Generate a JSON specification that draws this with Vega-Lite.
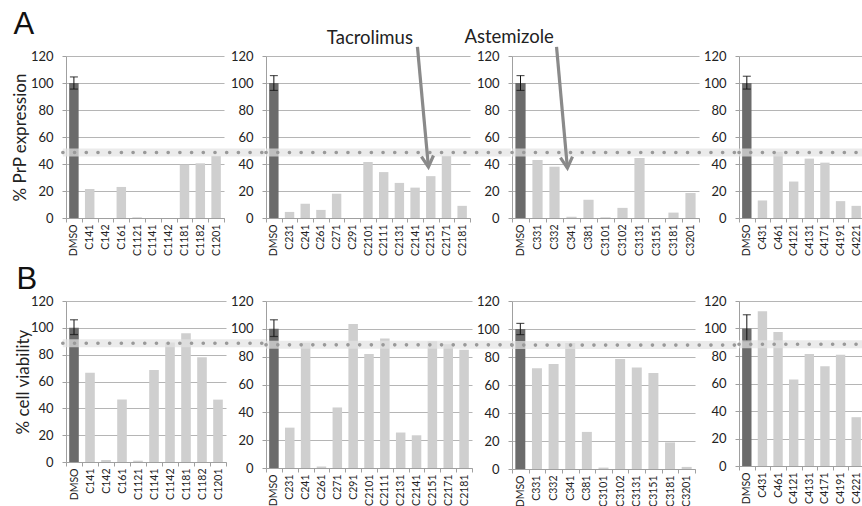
{
"$schema": "https://vega.github.io/schema/vega-lite/v6.json",
"autosize": {"type": "none"},
"padding": {"left": 66, "top": 56, "right": 796, "bottom": 450},
"background": "white",
"config": {
  "view": {"stroke": null},
  "font": "Lato",
  "axis": {"domainColor": "#a0a0a0", "tickColor": "#a0a0a0", "gridColor": "#b5b5b5", "labelColor": "#222", "labelFont": "Lato", "titleFont": "Lato", "titleFontWeight": "normal", "titleColor": "#222", "titleFontSize": 17},
  "axisY": {"grid": true, "tickCount": 6, "tickSize": 4, "labelPadding": 9, "labelFontSize": 13, "titlePadding": 6},
  "axisX": {"grid": false, "labelAngle": -90, "labelFontSize": 10.5, "tickSize": 4, "labelPadding": 2, "tickBand": "extent"}
},
"datasets": {
  "bars": [
    {"row": "A", "panel": 1, "compound": "DMSO", "value": 100, "kind": "control", "lo": 95.5, "hi": 104.5},
    {"row": "A", "panel": 1, "compound": "C141", "value": 21.5, "kind": "test"},
    {"row": "A", "panel": 1, "compound": "C142", "value": 0, "kind": "test"},
    {"row": "A", "panel": 1, "compound": "C161", "value": 23, "kind": "test"},
    {"row": "A", "panel": 1, "compound": "C1121", "value": 0.5, "kind": "test"},
    {"row": "A", "panel": 1, "compound": "C1141", "value": 0, "kind": "test"},
    {"row": "A", "panel": 1, "compound": "C1142", "value": 0, "kind": "test"},
    {"row": "A", "panel": 1, "compound": "C1181", "value": 39.5, "kind": "test"},
    {"row": "A", "panel": 1, "compound": "C1182", "value": 40.5, "kind": "test"},
    {"row": "A", "panel": 1, "compound": "C1201", "value": 46, "kind": "test"},
    {"row": "A", "panel": 2, "compound": "DMSO", "value": 100, "kind": "control", "lo": 94.5, "hi": 105.5},
    {"row": "A", "panel": 2, "compound": "C231", "value": 4.5, "kind": "test"},
    {"row": "A", "panel": 2, "compound": "C241", "value": 10.5, "kind": "test"},
    {"row": "A", "panel": 2, "compound": "C261", "value": 6, "kind": "test"},
    {"row": "A", "panel": 2, "compound": "C271", "value": 18, "kind": "test"},
    {"row": "A", "panel": 2, "compound": "C291", "value": 0, "kind": "test"},
    {"row": "A", "panel": 2, "compound": "C2101", "value": 41.5, "kind": "test"},
    {"row": "A", "panel": 2, "compound": "C2111", "value": 34, "kind": "test"},
    {"row": "A", "panel": 2, "compound": "C2131", "value": 26, "kind": "test"},
    {"row": "A", "panel": 2, "compound": "C2141", "value": 22.5, "kind": "test"},
    {"row": "A", "panel": 2, "compound": "C2151", "value": 31, "kind": "test"},
    {"row": "A", "panel": 2, "compound": "C2171", "value": 46, "kind": "test"},
    {"row": "A", "panel": 2, "compound": "C2181", "value": 9, "kind": "test"},
    {"row": "A", "panel": 3, "compound": "DMSO", "value": 100, "kind": "control", "lo": 94.5, "hi": 105.5},
    {"row": "A", "panel": 3, "compound": "C331", "value": 43, "kind": "test"},
    {"row": "A", "panel": 3, "compound": "C332", "value": 38, "kind": "test"},
    {"row": "A", "panel": 3, "compound": "C341", "value": 1, "kind": "test"},
    {"row": "A", "panel": 3, "compound": "C381", "value": 13.5, "kind": "test"},
    {"row": "A", "panel": 3, "compound": "C3101", "value": 0.5, "kind": "test"},
    {"row": "A", "panel": 3, "compound": "C3102", "value": 7.5, "kind": "test"},
    {"row": "A", "panel": 3, "compound": "C3131", "value": 44.5, "kind": "test"},
    {"row": "A", "panel": 3, "compound": "C3151", "value": 0, "kind": "test"},
    {"row": "A", "panel": 3, "compound": "C3181", "value": 4, "kind": "test"},
    {"row": "A", "panel": 3, "compound": "C3201", "value": 18.5, "kind": "test"},
    {"row": "A", "panel": 4, "compound": "DMSO", "value": 100, "kind": "control", "lo": 95.5, "hi": 105},
    {"row": "A", "panel": 4, "compound": "C431", "value": 13, "kind": "test"},
    {"row": "A", "panel": 4, "compound": "C461", "value": 49, "kind": "test"},
    {"row": "A", "panel": 4, "compound": "C4121", "value": 27, "kind": "test"},
    {"row": "A", "panel": 4, "compound": "C4131", "value": 44, "kind": "test"},
    {"row": "A", "panel": 4, "compound": "C4171", "value": 41, "kind": "test"},
    {"row": "A", "panel": 4, "compound": "C4191", "value": 12.5, "kind": "test"},
    {"row": "A", "panel": 4, "compound": "C4221", "value": 9, "kind": "test"},
    {"row": "B", "panel": 1, "compound": "DMSO", "value": 100, "kind": "control", "lo": 95, "hi": 106},
    {"row": "B", "panel": 1, "compound": "C141", "value": 66.5, "kind": "test"},
    {"row": "B", "panel": 1, "compound": "C142", "value": 1.5, "kind": "test"},
    {"row": "B", "panel": 1, "compound": "C161", "value": 46.5, "kind": "test"},
    {"row": "B", "panel": 1, "compound": "C1121", "value": 1, "kind": "test"},
    {"row": "B", "panel": 1, "compound": "C1141", "value": 68.5, "kind": "test"},
    {"row": "B", "panel": 1, "compound": "C1142", "value": 89, "kind": "test"},
    {"row": "B", "panel": 1, "compound": "C1181", "value": 96, "kind": "test"},
    {"row": "B", "panel": 1, "compound": "C1182", "value": 78, "kind": "test"},
    {"row": "B", "panel": 1, "compound": "C1201", "value": 46.5, "kind": "test"},
    {"row": "B", "panel": 2, "compound": "DMSO", "value": 100, "kind": "control", "lo": 94.5, "hi": 106.5},
    {"row": "B", "panel": 2, "compound": "C231", "value": 29, "kind": "test"},
    {"row": "B", "panel": 2, "compound": "C241", "value": 90, "kind": "test"},
    {"row": "B", "panel": 2, "compound": "C261", "value": 1, "kind": "test"},
    {"row": "B", "panel": 2, "compound": "C271", "value": 43.5, "kind": "test"},
    {"row": "B", "panel": 2, "compound": "C291", "value": 103.5, "kind": "test"},
    {"row": "B", "panel": 2, "compound": "C2101", "value": 82, "kind": "test"},
    {"row": "B", "panel": 2, "compound": "C2111", "value": 93, "kind": "test"},
    {"row": "B", "panel": 2, "compound": "C2131", "value": 25.5, "kind": "test"},
    {"row": "B", "panel": 2, "compound": "C2141", "value": 23.5, "kind": "test"},
    {"row": "B", "panel": 2, "compound": "C2151", "value": 91, "kind": "test"},
    {"row": "B", "panel": 2, "compound": "C2171", "value": 89, "kind": "test"},
    {"row": "B", "panel": 2, "compound": "C2181", "value": 85, "kind": "test"},
    {"row": "B", "panel": 3, "compound": "DMSO", "value": 100, "kind": "control", "lo": 96, "hi": 104},
    {"row": "B", "panel": 3, "compound": "C331", "value": 72, "kind": "test"},
    {"row": "B", "panel": 3, "compound": "C332", "value": 75, "kind": "test"},
    {"row": "B", "panel": 3, "compound": "C341", "value": 90, "kind": "test"},
    {"row": "B", "panel": 3, "compound": "C381", "value": 26.5, "kind": "test"},
    {"row": "B", "panel": 3, "compound": "C3101", "value": 1, "kind": "test"},
    {"row": "B", "panel": 3, "compound": "C3102", "value": 78.5, "kind": "test"},
    {"row": "B", "panel": 3, "compound": "C3131", "value": 72.5, "kind": "test"},
    {"row": "B", "panel": 3, "compound": "C3151", "value": 68.5, "kind": "test"},
    {"row": "B", "panel": 3, "compound": "C3181", "value": 19, "kind": "test"},
    {"row": "B", "panel": 3, "compound": "C3201", "value": 1.5, "kind": "test"},
    {"row": "B", "panel": 4, "compound": "DMSO", "value": 100, "kind": "control", "lo": 91, "hi": 110},
    {"row": "B", "panel": 4, "compound": "C431", "value": 112.5, "kind": "test"},
    {"row": "B", "panel": 4, "compound": "C461", "value": 97.5, "kind": "test"},
    {"row": "B", "panel": 4, "compound": "C4121", "value": 63, "kind": "test"},
    {"row": "B", "panel": 4, "compound": "C4131", "value": 81.5, "kind": "test"},
    {"row": "B", "panel": 4, "compound": "C4171", "value": 72.5, "kind": "test"},
    {"row": "B", "panel": 4, "compound": "C4191", "value": 81, "kind": "test"},
    {"row": "B", "panel": 4, "compound": "C4221", "value": 35.5, "kind": "test"}
  ],
  "thresholds": [
    {"row": "A", "panel": 1, "value": 48.5, "x": -0.2, "x2": 12.6},
    {"row": "A", "panel": 2, "value": 48.5, "x": 0, "x2": 15.6},
    {"row": "A", "panel": 3, "value": 48.5, "x": 0, "x2": 13.4},
    {"row": "A", "panel": 4, "value": 48.5, "x": 0, "x2": 8.2},
    {"row": "B", "panel": 1, "value": 88.5, "x": -0.2, "x2": 12.6},
    {"row": "B", "panel": 2, "value": 88.5, "x": 0, "x2": 15.6},
    {"row": "B", "panel": 3, "value": 88.5, "x": 0, "x2": 13.5},
    {"row": "B", "panel": 4, "value": 88.5, "x": 0, "x2": 8.2}
  ],
  "notes": [
    {"panel": 2, "label": "Tacrolimus", "x": 6.62, "value": 133},
    {"panel": 3, "label": "Astemizole", "x": -0.17, "value": 134}
  ],
  "arrows": [
    {"panel": 2, "x": 9.65, "value": 126.7, "x2": 10.35, "value2": 37.8},
    {"panel": 3, "x": 2.62, "value": 126.7, "x2": 3.26, "value2": 37}
  ]
},
"columns": 4,
"align": "none",
"bounds": "flush",
"spacing": {"row": 83, "column": 40},
"concat": [
  {"width": 158, "height": 162,
   "title": {"text": "A", "anchor": "start", "frame": "bounds", "offset": 9, "dx": 2, "fontSize": 31, "font": "Liberation Sans", "fontWeight": "normal", "color": "#111"},
   "layer": [
    {"data": {"name": "bars"}, "transform": [{"filter": "datum.row == 'A' && datum.panel == 1"}],
     "layer": [
      {"mark": {"type": "bar", "width": {"band": 0.6}},
       "encoding": {
        "x": {"field": "compound", "type": "nominal", "sort": null, "scale": {"paddingInner": 0, "paddingOuter": 0}, "axis": {"title": null}},
        "y": {"field": "value", "type": "quantitative", "scale": {"domain": [0, 120], "nice": false}, "axis": {"title": "% PrP expression", "titlePadding": 1}},
        "color": {"field": "kind", "type": "nominal", "scale": {"domain": ["control", "test"], "range": ["#6b6b6b", "#cfcfcf"]}, "legend": null}}},
      {"mark": {"type": "rule", "color": "#111"},
       "encoding": {"x": {"field": "compound", "type": "nominal", "sort": null}, "y": {"field": "lo", "type": "quantitative"}, "y2": {"field": "hi"}}},
      {"mark": {"type": "tick", "color": "#111", "size": 8, "thickness": 1.2},
       "encoding": {"x": {"field": "compound", "type": "nominal", "sort": null}, "y": {"field": "hi", "type": "quantitative"}}},
      {"mark": {"type": "tick", "color": "#111", "size": 8, "thickness": 1.2},
       "encoding": {"x": {"field": "compound", "type": "nominal", "sort": null}, "y": {"field": "lo", "type": "quantitative"}}}
     ]},
    {"data": {"name": "thresholds"}, "transform": [{"filter": "datum.row == 'A' && datum.panel == 1"}],
     "encoding": {"x": {"field": "x", "type": "quantitative", "scale": {"domain": [0, 10], "nice": false, "zero": false}, "axis": null}, "x2": {"field": "x2"}, "y": {"field": "value", "type": "quantitative"}},
     "layer": [
      {"mark": {"type": "rule", "color": "#e3e3e3", "strokeWidth": 8, "opacity": 0.7}},
      {"mark": {"type": "rule", "color": "#999999", "strokeWidth": 3.6, "strokeDash": [0.1, 11.6], "strokeCap": "round"}}
     ]}
   ],
   "resolve": {"scale": {"x": "independent"}}},
  {"width": 204, "height": 162,
   "layer": [
    {"data": {"name": "bars"}, "transform": [{"filter": "datum.row == 'A' && datum.panel == 2"}],
     "layer": [
      {"mark": {"type": "bar", "width": {"band": 0.6}},
       "encoding": {
        "x": {"field": "compound", "type": "nominal", "sort": null, "scale": {"paddingInner": 0, "paddingOuter": 0}, "axis": {"title": null}},
        "y": {"field": "value", "type": "quantitative", "scale": {"domain": [0, 120], "nice": false}, "axis": {"title": null}},
        "color": {"field": "kind", "type": "nominal", "scale": {"domain": ["control", "test"], "range": ["#6b6b6b", "#cfcfcf"]}, "legend": null}}},
      {"mark": {"type": "rule", "color": "#111"},
       "encoding": {"x": {"field": "compound", "type": "nominal", "sort": null}, "y": {"field": "lo", "type": "quantitative"}, "y2": {"field": "hi"}}},
      {"mark": {"type": "tick", "color": "#111", "size": 8, "thickness": 1.2},
       "encoding": {"x": {"field": "compound", "type": "nominal", "sort": null}, "y": {"field": "hi", "type": "quantitative"}}},
      {"mark": {"type": "tick", "color": "#111", "size": 8, "thickness": 1.2},
       "encoding": {"x": {"field": "compound", "type": "nominal", "sort": null}, "y": {"field": "lo", "type": "quantitative"}}}
     ]},
    {"data": {"name": "thresholds"}, "transform": [{"filter": "datum.row == 'A' && datum.panel == 2"}],
     "encoding": {"x": {"field": "x", "type": "quantitative", "scale": {"domain": [0, 13], "nice": false, "zero": false}, "axis": null}, "x2": {"field": "x2"}, "y": {"field": "value", "type": "quantitative"}},
     "layer": [
      {"mark": {"type": "rule", "color": "#e3e3e3", "strokeWidth": 8, "opacity": 0.7}},
      {"mark": {"type": "rule", "color": "#999999", "strokeWidth": 3.6, "strokeDash": [0.1, 11.6], "strokeCap": "round"}}
     ]},
    {"data": {"name": "notes"}, "transform": [{"filter": "datum.panel == 2"}],
     "mark": {"type": "text", "fontSize": 18.5, "font": "Lato", "color": "#222", "baseline": "middle", "align": "center"},
     "encoding": {"x": {"field": "x", "type": "quantitative", "scale": {"domain": [0, 13], "nice": false, "zero": false}, "axis": null}, "y": {"field": "value", "type": "quantitative"}, "text": {"field": "label"}}},
    {"data": {"name": "arrows"}, "transform": [{"filter": "datum.panel == 2"}],
     "mark": {"type": "rule", "color": "#8a8a8a", "strokeWidth": 3.2},
     "encoding": {"x": {"field": "x", "type": "quantitative", "scale": {"domain": [0, 13], "nice": false, "zero": false}, "axis": null}, "x2": {"field": "x2"}, "y": {"field": "value", "type": "quantitative"}, "y2": {"field": "value2"}}},
    {"data": {"name": "arrows"}, "transform": [{"filter": "datum.panel == 2"}],
     "mark": {"type": "point", "shape": "M -0.55 -1 L 0 0 L 0.55 -1", "size": 484, "filled": false, "strokeWidth": 3.2, "color": "#8a8a8a", "angle": -5, "opacity": 1},
     "encoding": {"x": {"field": "x2", "type": "quantitative", "scale": {"domain": [0, 13], "nice": false, "zero": false}, "axis": null}, "y": {"field": "value2", "type": "quantitative"}}}
   ],
   "resolve": {"scale": {"x": "independent"}}},
  {"width": 187, "height": 162,
   "layer": [
    {"data": {"name": "bars"}, "transform": [{"filter": "datum.row == 'A' && datum.panel == 3"}],
     "layer": [
      {"mark": {"type": "bar", "width": {"band": 0.6}},
       "encoding": {
        "x": {"field": "compound", "type": "nominal", "sort": null, "scale": {"paddingInner": 0, "paddingOuter": 0}, "axis": {"title": null}},
        "y": {"field": "value", "type": "quantitative", "scale": {"domain": [0, 120], "nice": false}, "axis": {"title": null}},
        "color": {"field": "kind", "type": "nominal", "scale": {"domain": ["control", "test"], "range": ["#6b6b6b", "#cfcfcf"]}, "legend": null}}},
      {"mark": {"type": "rule", "color": "#111"},
       "encoding": {"x": {"field": "compound", "type": "nominal", "sort": null}, "y": {"field": "lo", "type": "quantitative"}, "y2": {"field": "hi"}}},
      {"mark": {"type": "tick", "color": "#111", "size": 8, "thickness": 1.2},
       "encoding": {"x": {"field": "compound", "type": "nominal", "sort": null}, "y": {"field": "hi", "type": "quantitative"}}},
      {"mark": {"type": "tick", "color": "#111", "size": 8, "thickness": 1.2},
       "encoding": {"x": {"field": "compound", "type": "nominal", "sort": null}, "y": {"field": "lo", "type": "quantitative"}}}
     ]},
    {"data": {"name": "thresholds"}, "transform": [{"filter": "datum.row == 'A' && datum.panel == 3"}],
     "encoding": {"x": {"field": "x", "type": "quantitative", "scale": {"domain": [0, 11], "nice": false, "zero": false}, "axis": null}, "x2": {"field": "x2"}, "y": {"field": "value", "type": "quantitative"}},
     "layer": [
      {"mark": {"type": "rule", "color": "#e3e3e3", "strokeWidth": 8, "opacity": 0.7}},
      {"mark": {"type": "rule", "color": "#999999", "strokeWidth": 3.6, "strokeDash": [0.1, 11.6], "strokeCap": "round"}}
     ]},
    {"data": {"name": "notes"}, "transform": [{"filter": "datum.panel == 3"}],
     "mark": {"type": "text", "fontSize": 18.5, "font": "Lato", "color": "#222", "baseline": "middle", "align": "center"},
     "encoding": {"x": {"field": "x", "type": "quantitative", "scale": {"domain": [0, 11], "nice": false, "zero": false}, "axis": null}, "y": {"field": "value", "type": "quantitative"}, "text": {"field": "label"}}},
    {"data": {"name": "arrows"}, "transform": [{"filter": "datum.panel == 3"}],
     "mark": {"type": "rule", "color": "#8a8a8a", "strokeWidth": 3.2},
     "encoding": {"x": {"field": "x", "type": "quantitative", "scale": {"domain": [0, 11], "nice": false, "zero": false}, "axis": null}, "x2": {"field": "x2"}, "y": {"field": "value", "type": "quantitative"}, "y2": {"field": "value2"}}},
    {"data": {"name": "arrows"}, "transform": [{"filter": "datum.panel == 3"}],
     "mark": {"type": "point", "shape": "M -0.55 -1 L 0 0 L 0.55 -1", "size": 484, "filled": false, "strokeWidth": 3.2, "color": "#8a8a8a", "angle": -5, "opacity": 1},
     "encoding": {"x": {"field": "x2", "type": "quantitative", "scale": {"domain": [0, 11], "nice": false, "zero": false}, "axis": null}, "y": {"field": "value2", "type": "quantitative"}}}
   ],
   "resolve": {"scale": {"x": "independent"}}},
  {"width": 125, "height": 162,
   "layer": [
    {"data": {"name": "bars"}, "transform": [{"filter": "datum.row == 'A' && datum.panel == 4"}],
     "layer": [
      {"mark": {"type": "bar", "width": {"band": 0.6}},
       "encoding": {
        "x": {"field": "compound", "type": "nominal", "sort": null, "scale": {"paddingInner": 0, "paddingOuter": 0}, "axis": {"title": null}},
        "y": {"field": "value", "type": "quantitative", "scale": {"domain": [0, 120], "nice": false}, "axis": {"title": null}},
        "color": {"field": "kind", "type": "nominal", "scale": {"domain": ["control", "test"], "range": ["#6b6b6b", "#cfcfcf"]}, "legend": null}}},
      {"mark": {"type": "rule", "color": "#111"},
       "encoding": {"x": {"field": "compound", "type": "nominal", "sort": null}, "y": {"field": "lo", "type": "quantitative"}, "y2": {"field": "hi"}}},
      {"mark": {"type": "tick", "color": "#111", "size": 8, "thickness": 1.2},
       "encoding": {"x": {"field": "compound", "type": "nominal", "sort": null}, "y": {"field": "hi", "type": "quantitative"}}},
      {"mark": {"type": "tick", "color": "#111", "size": 8, "thickness": 1.2},
       "encoding": {"x": {"field": "compound", "type": "nominal", "sort": null}, "y": {"field": "lo", "type": "quantitative"}}}
     ]},
    {"data": {"name": "thresholds"}, "transform": [{"filter": "datum.row == 'A' && datum.panel == 4"}],
     "encoding": {"x": {"field": "x", "type": "quantitative", "scale": {"domain": [0, 8], "nice": false, "zero": false}, "axis": null}, "x2": {"field": "x2"}, "y": {"field": "value", "type": "quantitative"}},
     "layer": [
      {"mark": {"type": "rule", "color": "#e3e3e3", "strokeWidth": 8, "opacity": 0.7}},
      {"mark": {"type": "rule", "color": "#999999", "strokeWidth": 3.6, "strokeDash": [0.1, 11.6], "strokeCap": "round"}}
     ]}
   ],
   "resolve": {"scale": {"x": "independent"}}},
  {"width": 160, "height": 161,
   "title": {"text": "B", "anchor": "start", "frame": "bounds", "offset": -1, "dx": 2, "fontSize": 31, "font": "Liberation Sans", "fontWeight": "normal", "color": "#111"},
   "layer": [
    {"data": {"name": "bars"}, "transform": [{"filter": "datum.row == 'B' && datum.panel == 1"}],
     "layer": [
      {"mark": {"type": "bar", "width": {"band": 0.6}},
       "encoding": {
        "x": {"field": "compound", "type": "nominal", "sort": null, "scale": {"paddingInner": 0, "paddingOuter": 0}, "axis": {"title": null}},
        "y": {"field": "value", "type": "quantitative", "scale": {"domain": [0, 120], "nice": false}, "axis": {"title": "% cell viability", "titlePadding": -2}},
        "color": {"field": "kind", "type": "nominal", "scale": {"domain": ["control", "test"], "range": ["#6b6b6b", "#cfcfcf"]}, "legend": null}}},
      {"mark": {"type": "rule", "color": "#111"},
       "encoding": {"x": {"field": "compound", "type": "nominal", "sort": null}, "y": {"field": "lo", "type": "quantitative"}, "y2": {"field": "hi"}}},
      {"mark": {"type": "tick", "color": "#111", "size": 8, "thickness": 1.2},
       "encoding": {"x": {"field": "compound", "type": "nominal", "sort": null}, "y": {"field": "hi", "type": "quantitative"}}},
      {"mark": {"type": "tick", "color": "#111", "size": 8, "thickness": 1.2},
       "encoding": {"x": {"field": "compound", "type": "nominal", "sort": null}, "y": {"field": "lo", "type": "quantitative"}}}
     ]},
    {"data": {"name": "thresholds"}, "transform": [{"filter": "datum.row == 'B' && datum.panel == 1"}],
     "encoding": {"x": {"field": "x", "type": "quantitative", "scale": {"domain": [0, 10], "nice": false, "zero": false}, "axis": null}, "x2": {"field": "x2"}, "y": {"field": "value", "type": "quantitative"}},
     "layer": [
      {"mark": {"type": "rule", "color": "#e3e3e3", "strokeWidth": 8, "opacity": 0.7}},
      {"mark": {"type": "rule", "color": "#999999", "strokeWidth": 3.6, "strokeDash": [0.1, 11.6], "strokeCap": "round"}}
     ]}
   ],
   "resolve": {"scale": {"x": "independent"}}},
  {"width": 206, "height": 167,
   "layer": [
    {"data": {"name": "bars"}, "transform": [{"filter": "datum.row == 'B' && datum.panel == 2"}],
     "layer": [
      {"mark": {"type": "bar", "width": {"band": 0.6}},
       "encoding": {
        "x": {"field": "compound", "type": "nominal", "sort": null, "scale": {"paddingInner": 0, "paddingOuter": 0}, "axis": {"title": null}},
        "y": {"field": "value", "type": "quantitative", "scale": {"domain": [0, 120], "nice": false}, "axis": {"title": null}},
        "color": {"field": "kind", "type": "nominal", "scale": {"domain": ["control", "test"], "range": ["#6b6b6b", "#cfcfcf"]}, "legend": null}}},
      {"mark": {"type": "rule", "color": "#111"},
       "encoding": {"x": {"field": "compound", "type": "nominal", "sort": null}, "y": {"field": "lo", "type": "quantitative"}, "y2": {"field": "hi"}}},
      {"mark": {"type": "tick", "color": "#111", "size": 8, "thickness": 1.2},
       "encoding": {"x": {"field": "compound", "type": "nominal", "sort": null}, "y": {"field": "hi", "type": "quantitative"}}},
      {"mark": {"type": "tick", "color": "#111", "size": 8, "thickness": 1.2},
       "encoding": {"x": {"field": "compound", "type": "nominal", "sort": null}, "y": {"field": "lo", "type": "quantitative"}}}
     ]},
    {"data": {"name": "thresholds"}, "transform": [{"filter": "datum.row == 'B' && datum.panel == 2"}],
     "encoding": {"x": {"field": "x", "type": "quantitative", "scale": {"domain": [0, 13], "nice": false, "zero": false}, "axis": null}, "x2": {"field": "x2"}, "y": {"field": "value", "type": "quantitative"}},
     "layer": [
      {"mark": {"type": "rule", "color": "#e3e3e3", "strokeWidth": 8, "opacity": 0.7}},
      {"mark": {"type": "rule", "color": "#999999", "strokeWidth": 3.6, "strokeDash": [0.1, 11.6], "strokeCap": "round"}}
     ]}
   ],
   "resolve": {"scale": {"x": "independent"}}},
  {"width": 183, "height": 168,
   "layer": [
    {"data": {"name": "bars"}, "transform": [{"filter": "datum.row == 'B' && datum.panel == 3"}],
     "layer": [
      {"mark": {"type": "bar", "width": {"band": 0.6}},
       "encoding": {
        "x": {"field": "compound", "type": "nominal", "sort": null, "scale": {"paddingInner": 0, "paddingOuter": 0}, "axis": {"title": null}},
        "y": {"field": "value", "type": "quantitative", "scale": {"domain": [0, 120], "nice": false}, "axis": {"title": null}},
        "color": {"field": "kind", "type": "nominal", "scale": {"domain": ["control", "test"], "range": ["#6b6b6b", "#cfcfcf"]}, "legend": null}}},
      {"mark": {"type": "rule", "color": "#111"},
       "encoding": {"x": {"field": "compound", "type": "nominal", "sort": null}, "y": {"field": "lo", "type": "quantitative"}, "y2": {"field": "hi"}}},
      {"mark": {"type": "tick", "color": "#111", "size": 8, "thickness": 1.2},
       "encoding": {"x": {"field": "compound", "type": "nominal", "sort": null}, "y": {"field": "hi", "type": "quantitative"}}},
      {"mark": {"type": "tick", "color": "#111", "size": 8, "thickness": 1.2},
       "encoding": {"x": {"field": "compound", "type": "nominal", "sort": null}, "y": {"field": "lo", "type": "quantitative"}}}
     ]},
    {"data": {"name": "thresholds"}, "transform": [{"filter": "datum.row == 'B' && datum.panel == 3"}],
     "encoding": {"x": {"field": "x", "type": "quantitative", "scale": {"domain": [0, 11], "nice": false, "zero": false}, "axis": null}, "x2": {"field": "x2"}, "y": {"field": "value", "type": "quantitative"}},
     "layer": [
      {"mark": {"type": "rule", "color": "#e3e3e3", "strokeWidth": 8, "opacity": 0.7}},
      {"mark": {"type": "rule", "color": "#999999", "strokeWidth": 3.6, "strokeDash": [0.1, 11.6], "strokeCap": "round"}}
     ]}
   ],
   "resolve": {"scale": {"x": "independent"}}},
  {"width": 125, "height": 165,
   "layer": [
    {"data": {"name": "bars"}, "transform": [{"filter": "datum.row == 'B' && datum.panel == 4"}],
     "layer": [
      {"mark": {"type": "bar", "width": {"band": 0.6}},
       "encoding": {
        "x": {"field": "compound", "type": "nominal", "sort": null, "scale": {"paddingInner": 0, "paddingOuter": 0}, "axis": {"title": null}},
        "y": {"field": "value", "type": "quantitative", "scale": {"domain": [0, 120], "nice": false}, "axis": {"title": null}},
        "color": {"field": "kind", "type": "nominal", "scale": {"domain": ["control", "test"], "range": ["#6b6b6b", "#cfcfcf"]}, "legend": null}}},
      {"mark": {"type": "rule", "color": "#111"},
       "encoding": {"x": {"field": "compound", "type": "nominal", "sort": null}, "y": {"field": "lo", "type": "quantitative"}, "y2": {"field": "hi"}}},
      {"mark": {"type": "tick", "color": "#111", "size": 8, "thickness": 1.2},
       "encoding": {"x": {"field": "compound", "type": "nominal", "sort": null}, "y": {"field": "hi", "type": "quantitative"}}},
      {"mark": {"type": "tick", "color": "#111", "size": 8, "thickness": 1.2},
       "encoding": {"x": {"field": "compound", "type": "nominal", "sort": null}, "y": {"field": "lo", "type": "quantitative"}}}
     ]},
    {"data": {"name": "thresholds"}, "transform": [{"filter": "datum.row == 'B' && datum.panel == 4"}],
     "encoding": {"x": {"field": "x", "type": "quantitative", "scale": {"domain": [0, 8], "nice": false, "zero": false}, "axis": null}, "x2": {"field": "x2"}, "y": {"field": "value", "type": "quantitative"}},
     "layer": [
      {"mark": {"type": "rule", "color": "#e3e3e3", "strokeWidth": 8, "opacity": 0.7}},
      {"mark": {"type": "rule", "color": "#999999", "strokeWidth": 3.6, "strokeDash": [0.1, 11.6], "strokeCap": "round"}}
     ]}
   ],
   "resolve": {"scale": {"x": "independent"}}}
]
}
